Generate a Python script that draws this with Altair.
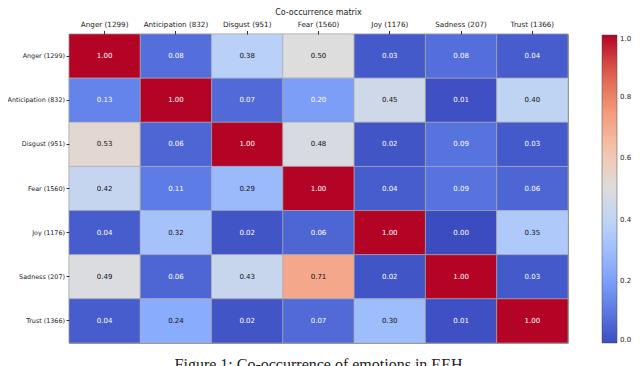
import altair as alt
import pandas as pd

emotions = ["Anger (1299)", "Anticipation (832)", "Disgust (951)", "Fear (1560)",
            "Joy (1176)", "Sadness (207)", "Trust (1366)"]

row_anger = [1.00, 0.08, 0.38, 0.50, 0.03, 0.08, 0.04]
row_anticipation = [0.13, 1.00, 0.07, 0.20, 0.45, 0.01, 0.40]
row_disgust = [0.53, 0.06, 1.00, 0.48, 0.02, 0.09, 0.03]
row_fear = [0.42, 0.11, 0.29, 1.00, 0.04, 0.09, 0.06]
row_joy = [0.04, 0.32, 0.02, 0.06, 1.00, 0.00, 0.35]
row_sadness = [0.49, 0.06, 0.43, 0.71, 0.02, 1.00, 0.03]
row_trust = [0.04, 0.24, 0.02, 0.07, 0.30, 0.01, 1.00]

rows = [row_anger, row_anticipation, row_disgust, row_fear, row_joy, row_sadness, row_trust]

legend_ticks = [0.0, 0.2, 0.4, 0.6, 0.8, 1.0]
caption = "Figure 1: Co-occurrence of emotions in EEH"

# coolwarm colormap stops
cw_domain = [0.0, 0.125, 0.25, 0.375, 0.5, 0.625, 0.75, 0.875, 1.0]
cw_range = ["#3b4cc0", "#6282ea", "#8db0fe", "#b8d0f9", "#dddddd",
            "#f5c4ac", "#f49a7b", "#de604d", "#b40426"]

records = []
for r, vals in zip(emotions, rows):
    for c, v in zip(emotions, vals):
        records.append({"row": r, "col": c, "value": v})
df = pd.DataFrame(records)

W, H = 499, 309

base = alt.Chart(df)

heat = base.mark_rect(stroke="#a8a8a8", strokeWidth=0.6).encode(
    x=alt.X("col:N", sort=emotions, title=None,
            axis=alt.Axis(orient="top", labelAngle=0, labelFontSize=7.2,
                          labelFont="DejaVu Sans", labelColor="#222",
                          tickSize=3.5, tickColor="#333", domain=False, labelPadding=2)),
    y=alt.Y("row:N", sort=emotions, title=None,
            axis=alt.Axis(labelFontSize=6.4, labelFont="DejaVu Sans", labelColor="#222",
                          tickSize=3, tickColor="#333", domain=False, labelPadding=1.5)),
    color=alt.Color("value:Q",
                    scale=alt.Scale(domain=cw_domain, range=cw_range, interpolate="rgb"),
                    legend=alt.Legend(title=None, orient="none", legendX=533, legendY=1,
                                      gradientLength=308, gradientThickness=15,
                                      values=legend_ticks, format=".1f",
                                      labelFontSize=7, labelFont="DejaVu Sans",
                                      labelColor="#222", labelOffset=3,
                                      labelBaseline="middle",
                                      gradientStrokeColor="#444", gradientStrokeWidth=0.5,
                                      direction="vertical")),
)

txt = base.mark_text(fontSize=7, font="DejaVu Sans").encode(
    x=alt.X("col:N", sort=emotions),
    y=alt.Y("row:N", sort=emotions),
    text=alt.Text("value:Q", format=".2f"),
    color=alt.condition("datum.value > 0.22 && datum.value < 0.8",
                        alt.value("#111111"), alt.value("#ffffff")),
)

cap = alt.Chart(pd.DataFrame({"t": [caption]})).mark_text(
    font="Liberation Serif", fontSize=16, baseline="alphabetic", align="center",
    color="#222"
).encode(text="t:N", x=alt.value(W / 2), y=alt.value(H + 27))

chart = alt.layer(heat, txt, cap).properties(
    width=W, height=H,
    title=alt.Title("Co-occurrence matrix", fontSize=8, font="DejaVu Sans",
                    fontWeight="normal", color="#222", offset=1, dy=-3),
    autosize=alt.AutoSizeParams(type="none"),
    padding={"left": 61, "top": 26, "right": 64, "bottom": 30},
).configure_view(stroke="#555", strokeWidth=0.8)

chart.save("out.html", embed_options={"renderer": "svg", "actions": False})
